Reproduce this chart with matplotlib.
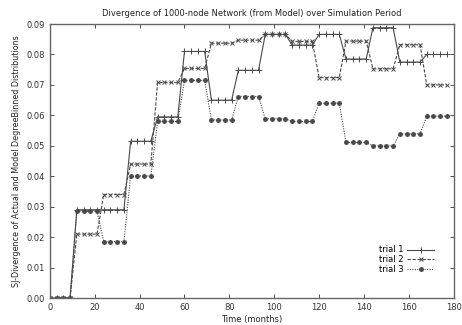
import numpy as np
import matplotlib.pyplot as plt

# quarterly sample times (months)
months = np.arange(0, 180, 3)

# one value per year (4 quarterly points each)
trial1_yearly = [0.0, 0.029, 0.029, 0.0515, 0.0595, 0.081, 0.065, 0.0748,
                 0.0866, 0.0831, 0.0866, 0.0785, 0.0888, 0.0775, 0.0800]
trial2_yearly = [0.0, 0.021, 0.034, 0.044, 0.0708, 0.0754, 0.0837, 0.0847,
                 0.0866, 0.0843, 0.0724, 0.0844, 0.0753, 0.0832, 0.0700]
trial3_yearly = [0.0, 0.0285, 0.0185, 0.0401, 0.058, 0.0715, 0.0585, 0.0662,
                 0.0589, 0.058, 0.064, 0.0511, 0.0500, 0.0539, 0.0597]

trial1 = np.repeat(trial1_yearly, 4)
trial2 = np.repeat(trial2_yearly, 4)
trial3 = np.repeat(trial3_yearly, 4)

fig = plt.figure(figsize=(4.62, 3.25), dpi=100)
ax = fig.add_subplot(111)
fig.subplots_adjust(left=0.108, right=0.982, top=0.926, bottom=0.083)

c = '#4a4a4a'
ax.plot(months, trial1, color=c, lw=0.8, ls='-', marker='+', ms=4, mew=0.7, label='trial 1')
ax.plot(months, trial2, color=c, lw=0.8, ls=(0, (3, 1.5)), marker='x', ms=3, mew=0.7, label='trial 2')
ax.plot(months, trial3, color=c, lw=0.8, ls=(0, (1, 1.2)), marker=(8, 2, 0), ms=3.5, mew=0.8, label='trial 3')

ax.set_xlim(0, 180)
ax.set_ylim(0, 0.09)
ax.set_xticks(np.arange(0, 181, 20))
ax.set_yticks(np.arange(0, 0.0901, 0.01))
ax.set_yticklabels(['%.2f' % v for v in np.arange(0, 0.0901, 0.01)])
ax.tick_params(direction='in', top=True, right=True, labelsize=6, colors='#333333', length=3, width=0.6)
for s in ax.spines.values():
    s.set_color('#666666')
    s.set_linewidth(1.0)

ax.set_title('Divergence of 1000-node Network (from Model) over Simulation Period', fontsize=6, color='#222222', pad=6)
ax.set_xlabel('Time (months)', fontsize=6, color='#222222', labelpad=2)
ax.set_ylabel('SJ-Divergence of Actual and Model DegreeBinned Distributions', fontsize=5.8, color='#222222', labelpad=4)

ax.legend(loc='lower right', bbox_to_anchor=(0.97, 0.06), frameon=False, fontsize=6,
          markerfirst=False, handlelength=3.2, labelspacing=0.1, handletextpad=0.5)

fig.savefig('out.png', dpi=100)
